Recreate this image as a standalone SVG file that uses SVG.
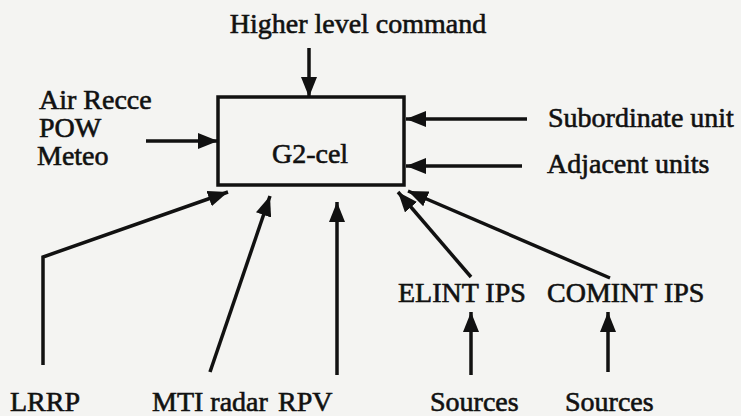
<svg xmlns="http://www.w3.org/2000/svg" width="741" height="416" viewBox="0 0 741 416">
<style>
text{font-family:"Liberation Serif","Times New Roman",serif;font-size:28px;fill:#111;stroke:#111;stroke-width:0.6}
.ln{stroke:#111;stroke-width:3.5;fill:none;marker-end:url(#ah)}
.box{fill:none;stroke:#111;stroke-width:3.5}
</style>
<defs>
<marker id="ah" viewBox="0 0 20 16" refX="20" refY="8" markerWidth="20" markerHeight="16" markerUnits="userSpaceOnUse" orient="auto">
<path d="M0,0 L20,8 L0,16 Z" fill="#111"/>
</marker>
</defs>
<rect width="741" height="416" fill="#f4f4f2"/>
<g id="g2cel">
<rect class="box" x="218" y="97" width="186" height="88"/>
<text x="310" y="163" text-anchor="middle">G2-cel</text>
</g>
<g id="higher"><text x="358" y="33" text-anchor="middle">Higher level command</text></g>
<g id="left"><text x="39" y="109">Air Recce</text><text x="39" y="137">POW</text><text x="37" y="165">Meteo</text></g>
<g id="subordinate"><text x="548" y="127">Subordinate unit</text></g>
<g id="adjacent"><text x="547" y="173">Adjacent units</text></g>
<g id="lrrp"><text x="10" y="411">LRRP</text></g>
<g id="mti"><text x="152" y="411">MTI radar</text></g>
<g id="rpv"><text x="278" y="411">RPV</text></g>
<g id="elint"><text x="398" y="302">ELINT IPS</text></g>
<g id="comint"><text x="547" y="302">COMINT IPS</text></g>
<g id="sources1"><text x="430" y="411">Sources</text></g>
<g id="sources2"><text x="565" y="411">Sources</text></g>
<g id="connectors">
<line class="ln" x1="309" y1="48" x2="309" y2="97"/>
<line class="ln" x1="146" y1="141" x2="218" y2="141"/>
<line class="ln" x1="527" y1="119" x2="406" y2="119"/>
<line class="ln" x1="522" y1="166" x2="406" y2="166"/>
<polyline class="ln" points="43,365 43,257 228,192"/>
<line class="ln" x1="210" y1="372" x2="270" y2="196"/>
<line class="ln" x1="337" y1="375" x2="337" y2="202"/>
<line class="ln" x1="471" y1="277" x2="398" y2="192"/>
<line class="ln" x1="610" y1="278" x2="408" y2="191"/>
<line class="ln" x1="471" y1="375" x2="471" y2="312"/>
<line class="ln" x1="608" y1="372" x2="608" y2="312"/>
</g>
</svg>
